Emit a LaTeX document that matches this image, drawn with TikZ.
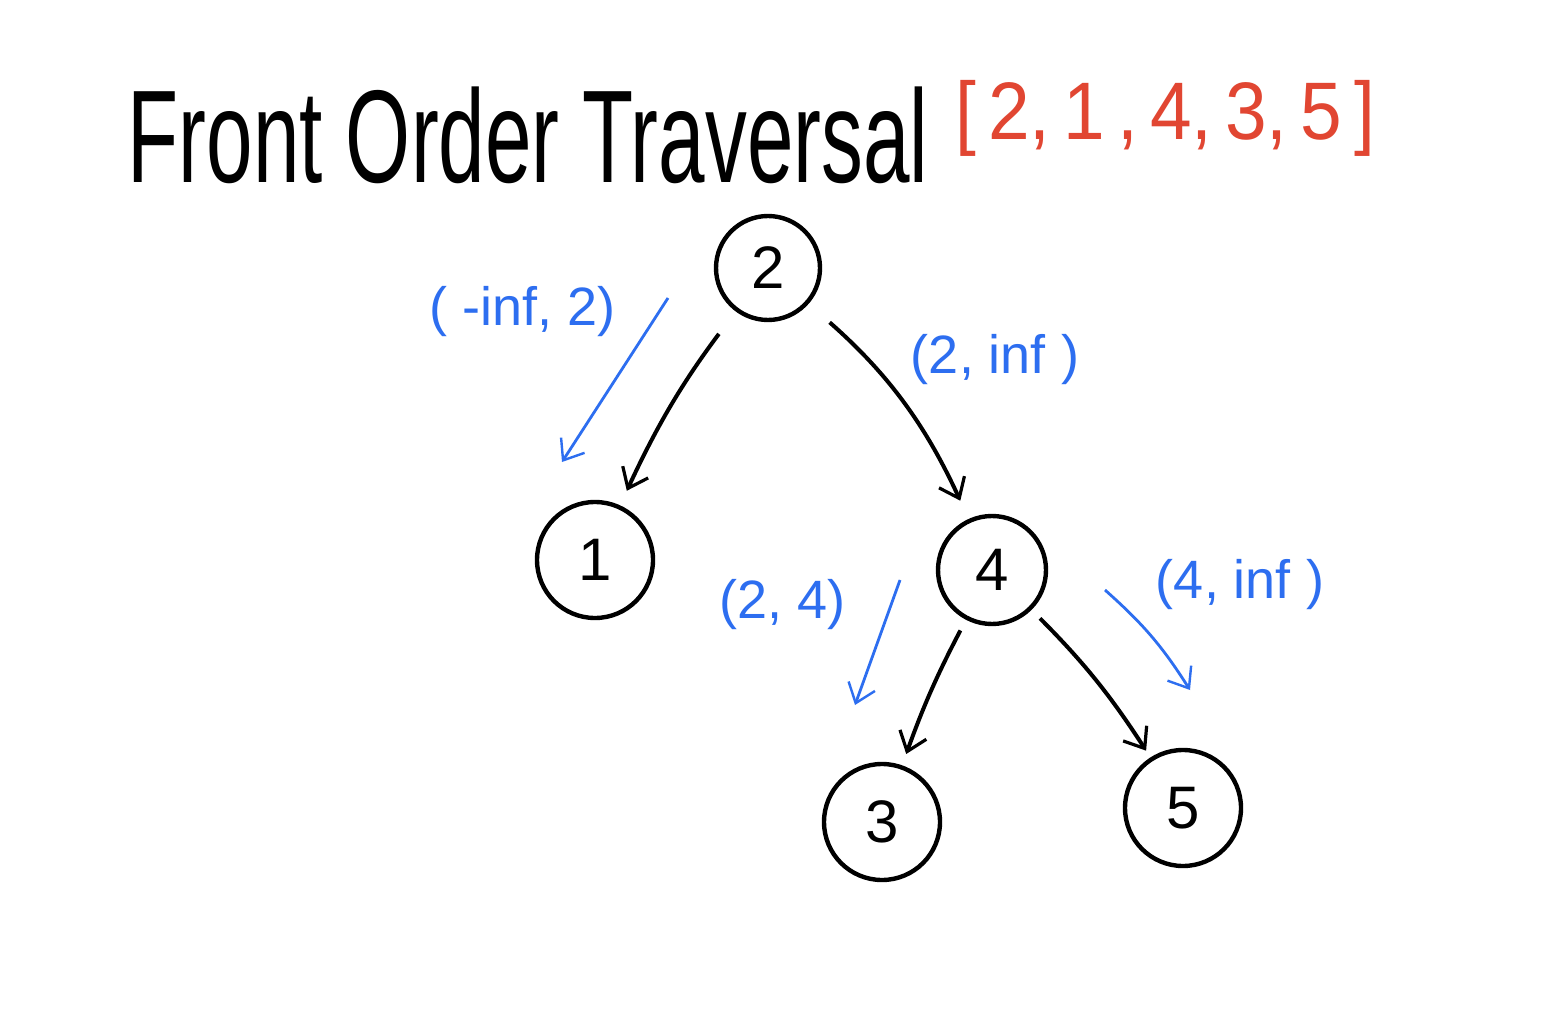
\documentclass[tikz,border=0pt]{standalone}
\usepackage{fontspec}
\usepackage{graphicx}
\setmainfont{Liberation Sans}
\usetikzlibrary{arrows.meta}
\definecolor{penblue}{RGB}{45,110,240}
\definecolor{penred}{RGB}{225,70,50}
\begin{document}
\begin{tikzpicture}[x=0.5pt,y=-0.5pt,
  tnode/.style={circle,draw=black,line width=2.2pt,minimum size=56pt,inner sep=0pt,font=\fontsize{30}{30}\selectfont},
  edge/.style={line width=2pt,-{Straight Barb[length=9pt,width=14pt,line width=1.6pt]}},
  bedge/.style={penblue,line width=1.4pt,-{Straight Barb[length=9pt,width=14pt,line width=1.2pt]}},
  blab/.style={text=penblue,font=\fontsize{27}{27}\selectfont}]
\useasboundingbox (0,0) rectangle (1568,1026);
\fill[white] (0,0) rectangle (1568,1026);
% title
\node[font=\fontsize{44}{44}\selectfont] (title) at (528,135) {\scalebox{0.95}[1.5]{Front Order Traversal}};
\node[text=penred,font=\fontsize{34}{34}\selectfont] (order) at (1165,118) {\scalebox{1.1}[1.2]{[\,2,\,1\,,\,4,\,3,\,5\,]}};
% nodes
\node[tnode,minimum size=52pt] (n2) at (768,268) {2};
\node[tnode,minimum size=58pt] (n1) at (595,560) {1};
\node[tnode,minimum size=54pt] (n4) at (992,570) {4};
\node[tnode,minimum size=58pt] (n3) at (882,822) {3};
\node[tnode,minimum size=58pt] (n5) at (1183,808) {5};
% black edges
\draw[edge,shorten <=14pt,shorten >=8pt] (n2) to[bend right=6] (n1);
\draw[edge,shorten <=14pt,shorten >=10pt] (n2) to[bend left=12] (n4);
\draw[edge,shorten <=6pt,shorten >=6pt] (n4) to[bend right=4] (n3);
\draw[edge,shorten <=6pt,shorten >=4pt] (n4) to[bend left=6] (n5);
% blue labels
\node[blab] (l21) at (523,312) {( -inf, 2)};
\node[blab] (l24) at (995,360) {(2, inf )};
\node[blab] (l43) at (783,605) {(2, 4)};
\node[blab] (l45) at (1240,585) {(4, inf )};
% blue arrows
\coordinate (b1s) at (668,298); \coordinate (b1e) at (562,462);
\coordinate (b2s) at (900,580); \coordinate (b2e) at (855,705);
\coordinate (b3s) at (1105,590); \coordinate (b3e) at (1190,690);
\draw[bedge] (b1s) -- (b1e);
\draw[bedge] (b2s) -- (b2e);
\draw[bedge] (b3s) to[bend left=8] (b3e);
\end{tikzpicture}
\end{document}
